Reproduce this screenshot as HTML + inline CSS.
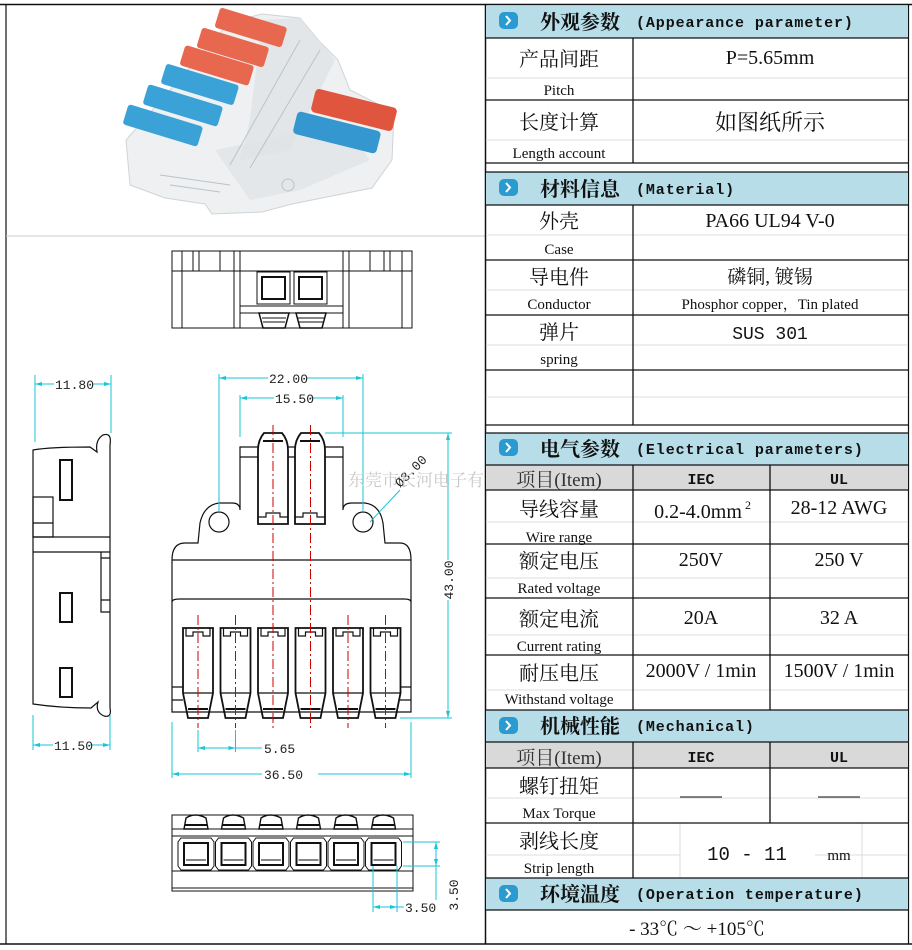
<!DOCTYPE html>
<html><head><meta charset="utf-8"><style>
html,body{margin:0;padding:0;background:#fff;}
svg{display:block;}
.cn{font-family:"Liberation Serif","Noto Serif CJK SC","Noto Sans CJK SC",serif;}
.en{font-family:"Liberation Serif","Noto Serif CJK SC",serif;}
.mono{font-family:"Liberation Mono","Noto Sans CJK SC",monospace;font-weight:bold;}
.dim{font-family:"Liberation Mono",monospace;font-size:13px;fill:#222;}
</style></head><body>
<svg width="912" height="950" viewBox="0 0 912 950" xmlns="http://www.w3.org/2000/svg">
<rect x="0" y="0" width="912" height="950" fill="#fff"/>
<line x1="0" y1="4.5" x2="912" y2="4.5" stroke="#111" stroke-width="1.5"/>
<line x1="6" y1="4" x2="6" y2="944" stroke="#111" stroke-width="1.2"/>
<line x1="0" y1="944" x2="912" y2="944" stroke="#111" stroke-width="1.5"/>
<line x1="6" y1="236" x2="485" y2="236" stroke="#ccc" stroke-width="1"/>
<line x1="485.5" y1="4" x2="485.5" y2="944" stroke="#111" stroke-width="1.5"/>
<line x1="908.5" y1="4" x2="908.5" y2="944" stroke="#111" stroke-width="1.2"/>

<!-- photo -->
<g>
<polygon points="126,140 130,185 165,198 205,204 212,214 262,212 292,204 372,188 392,160 394,112 350,90 338,60 320,42 300,18 262,14 230,22" fill="#eef0f1" stroke="#cfd4d7"/>
<polygon points="215,150 265,140 300,130 340,120 370,160 300,190 250,200" fill="#e3e7e9"/>
<polygon points="262,20 300,18 335,60 290,150 240,160 250,120" fill="#dfe3e6" opacity="0.8"/>
<g stroke="#bcc3c8" fill="none" stroke-width="1">
<line x1="230" y1="165" x2="300" y2="40"/><line x1="250" y1="168" x2="320" y2="50"/>
<path d="M160 175 L230 185 M170 185 L220 192"/>
<circle cx="288" cy="185" r="6"/>
</g>
<g>
<rect x="216" y="17" width="70" height="21" rx="3" fill="#e8674f" transform="rotate(17 251 27)"/>
<rect x="198" y="37" width="70" height="21" rx="3" fill="#e8674f" transform="rotate(17 233 47)"/>
<rect x="181" y="55" width="72" height="21" rx="3" fill="#e8674f" transform="rotate(17 217 65)"/>
<rect x="162" y="74" width="76" height="21" rx="3" fill="#3aa2d6" transform="rotate(17 200 84)"/>
<rect x="144" y="95" width="78" height="21" rx="3" fill="#3aa2d6" transform="rotate(17 183 105)"/>
<rect x="124" y="115" width="78" height="21" rx="3" fill="#3aa2d6" transform="rotate(17 163 125)"/>
<rect x="312" y="98" width="84" height="24" rx="4" fill="#e0553e" transform="rotate(14 354 110)"/>
<rect x="294" y="121" width="86" height="23" rx="4" fill="#3597cf" transform="rotate(14 337 132)"/>
</g>
</g>

<!-- top view -->
<g stroke="#111" fill="none" stroke-width="1">
<rect x="172" y="251" width="240" height="77"/>
<line x1="172" y1="271" x2="412" y2="271"/>
<line x1="182" y1="251" x2="182" y2="328"/><line x1="234" y1="251" x2="234" y2="328"/><line x1="240" y1="251" x2="240" y2="328"/>
<line x1="343" y1="251" x2="343" y2="328"/><line x1="349" y1="251" x2="349" y2="328"/><line x1="402" y1="251" x2="402" y2="328"/>
<line x1="193" y1="251" x2="193" y2="271"/><line x1="199" y1="251" x2="199" y2="271"/><line x1="220" y1="251" x2="220" y2="271"/>
<line x1="370" y1="251" x2="370" y2="271"/><line x1="384" y1="251" x2="384" y2="271"/><line x1="390" y1="251" x2="390" y2="271"/>
<rect x="257" y="272" width="33" height="32"/><rect x="262" y="277" width="23" height="22" stroke-width="2"/>
<rect x="294" y="272" width="33" height="32"/><rect x="299" y="277" width="23" height="22" stroke-width="2"/>
<line x1="240" y1="306" x2="343" y2="306"/><line x1="240" y1="313" x2="343" y2="313"/>
<path d="M259 313 L289 313 L285 328 L263 328 Z" stroke-width="1.5"/>
<path d="M296 313 L326 313 L322 328 L300 328 Z" stroke-width="1.5"/>
<path d="M262 318 L286 318 M263 322 L285 322 M298 318 L324 318 M299 322 L323 322"/>
</g>

<!-- side view -->
<g stroke="#111" fill="none" stroke-width="1.2">
<path d="M33 450 Q50 447 90 447 L97 452 Q95 440 103 435 Q112 432 110 445 L110 708 Q112 718 104 716 Q95 712 98 702 L91 708 Q60 708 33 704 Z"/>
<line x1="33" y1="537" x2="110" y2="537"/><line x1="33" y1="552" x2="110" y2="552"/>
<rect x="33" y="497" width="20" height="40"/><line x1="33" y1="523" x2="53" y2="523"/>
<path d="M101 552 L101 558 L110 558 M101 558 L101 600 L110 600 M101 600 L101 612 L110 612"/>
<rect x="60" y="460" width="12" height="40" stroke-width="2"/>
<rect x="60" y="593" width="12" height="29" stroke-width="2"/>
<rect x="60" y="668" width="12" height="29" stroke-width="2"/>
</g>

<!-- front view -->
<g stroke="#111" fill="none" stroke-width="1.2">
<path d="M172 560 Q172 543 185 543 L198 543 L200 523 Q204 505 219 503 L232 503 Q240 503 240 510 L240 447 L343 447 L343 510 Q343 503 352 503 L365 503 Q380 505 383 523 L385 543 L400 543 Q411 543 411 560 L411 712 L172 712 Z"/>
<line x1="172" y1="560" x2="411" y2="560"/>
<path d="M172 602 Q172 599 180 599 L404 599 Q411 599 411 602"/>
<circle cx="219" cy="522" r="10"/><circle cx="363" cy="522" r="10"/>
<line x1="240" y1="457" x2="343" y2="457"/>
<path d="M258 524 L258 450 Q258 440 264 433 L282 433 Q288 440 288 450 L288 524 Z" stroke-width="1.8" fill="#fff"/>
<path d="M295 524 L295 450 Q295 440 301 433 L319 433 Q325 440 325 450 L325 524 Z" stroke-width="1.8" fill="#fff"/>
<path d="M258 517 L266 517 L266 513 L280 513 L280 517 L288 517"/>
<path d="M295 517 L303 517 L303 513 L317 513 L317 517 L325 517"/>
<line x1="263" y1="441" x2="283" y2="441" stroke-width="2"/><line x1="300" y1="441" x2="320" y2="441" stroke-width="2"/>
<g id="bs">
<path d="M183 628 L213 628 L213 693 L208 718 L188 718 L183 693 Z" stroke-width="1.8"/>
<path d="M186 628 L186 636 L193 636 L193 632 L203 632 L203 636 L210 636 L210 628"/>
<line x1="183" y1="693" x2="213" y2="693"/>
<line x1="188" y1="709" x2="208" y2="709" stroke-width="2"/>
</g>
<use href="#bs" x="37.5"/><use href="#bs" x="75"/><use href="#bs" x="112.5"/><use href="#bs" x="150"/><use href="#bs" x="187.5"/>
<path d="M172 687 L183 687 M172 700 L183 700 M400 687 L411 687 M400 700 L411 700"/>
</g>
<g stroke="#c00" stroke-width="1" stroke-dasharray="10,3,2,3" fill="none">
<line x1="198" y1="615" x2="198" y2="728"/><line x1="235.5" y1="615" x2="235.5" y2="728"/>
<line x1="273" y1="425" x2="273" y2="728"/><line x1="310.5" y1="425" x2="310.5" y2="728"/>
<line x1="348" y1="615" x2="348" y2="728"/><line x1="385.5" y1="615" x2="385.5" y2="728"/>
</g>

<!-- bottom view -->
<g stroke="#111" fill="none" stroke-width="1">
<rect x="172" y="815" width="241" height="76"/>
<line x1="172" y1="829" x2="413" y2="829"/><line x1="172" y1="836" x2="413" y2="836"/>
<line x1="172" y1="871" x2="413" y2="871"/><line x1="172" y1="888" x2="413" y2="888"/>
<g id="bv">
<path d="M184 829 L186 818 Q195 812 206 818 L208 829 Z" stroke-width="1.4"/>
<line x1="185" y1="825" x2="207" y2="825" stroke-width="2"/>
<path d="M181 838 L211 838 L214 842 L214 866 L211 870 L181 870 L178 866 L178 842 Z"/>
<rect x="184" y="843" width="24" height="22" stroke-width="2"/>
<line x1="186" y1="860" x2="206" y2="860"/>
</g>
<use href="#bv" x="37.5"/><use href="#bv" x="75"/><use href="#bv" x="112.5"/><use href="#bv" x="150"/><use href="#bv" x="187.5"/>
</g>

<!-- dimensions -->
<g stroke="#16c6d6" stroke-width="1" fill="none">
<line x1="35" y1="375" x2="35" y2="442"/><line x1="111" y1="375" x2="111" y2="433"/>
<line x1="35" y1="384" x2="54" y2="384"/><line x1="92" y1="384" x2="111" y2="384"/>
<line x1="33" y1="715" x2="33" y2="750"/><line x1="110" y1="715" x2="110" y2="750"/>
<line x1="33" y1="745" x2="53" y2="745"/><line x1="90" y1="745" x2="110" y2="745"/>
<line x1="219" y1="374" x2="219" y2="512"/><line x1="363" y1="374" x2="363" y2="512"/>
<line x1="219" y1="378" x2="268" y2="378"/><line x1="306" y1="378" x2="363" y2="378"/>
<line x1="240" y1="395" x2="240" y2="437"/><line x1="343" y1="395" x2="343" y2="437"/>
<line x1="240" y1="398" x2="274" y2="398"/><line x1="310" y1="398" x2="343" y2="398"/>
<line x1="325" y1="433" x2="452" y2="433"/><line x1="400" y1="718" x2="452" y2="718"/>
<line x1="448" y1="433" x2="448" y2="560"/><line x1="448" y1="600" x2="448" y2="718"/>
<line x1="172" y1="722" x2="172" y2="778"/><line x1="411" y1="722" x2="411" y2="778"/>
<line x1="172" y1="774" x2="262" y2="774"/><line x1="318" y1="774" x2="411" y2="774"/>
<line x1="198" y1="730" x2="198" y2="752"/><line x1="235.5" y1="730" x2="235.5" y2="752"/>
<line x1="198" y1="748" x2="262" y2="748"/>
<line x1="370" y1="522" x2="400" y2="490"/>
<line x1="403" y1="842" x2="440" y2="842"/><line x1="403" y1="866" x2="440" y2="866"/>
<line x1="436" y1="842" x2="436" y2="900"/>
<line x1="373" y1="866" x2="373" y2="912"/><line x1="397" y1="866" x2="397" y2="912"/>
<line x1="373" y1="907" x2="404" y2="907"/>
</g>
<g fill="#16c6d6">
<path d="M35 384 l7 -2 v4z M111 384 l-7 -2 v4z M33 745 l7 -2 v4z M110 745 l-7 -2 v4z M219 378 l7 -2 v4z M363 378 l-7 -2 v4z M240 398 l7 -2 v4z M343 398 l-7 -2 v4z M448 433 l-2 7 h4z M448 718 l-2 -7 h4z M172 774 l7 -2 v4z M411 774 l-7 -2 v4z M198 748 l7 -2 v4z M235.5 748 l-7 -2 v4z M436 842 l-2 7 h4z M436 866 l-2 -7 h4z M373 907 l7 -2 v4z M397 907 l-7 -2 v4z"/>
</g>
<g class="dim">
<text x="55" y="389">11.80</text>
<text x="54" y="750">11.50</text>
<text x="269" y="383">22.00</text>
<text x="275" y="403">15.50</text>
<text x="264" y="753">5.65</text>
<text x="264" y="779">36.50</text>
<text x="405" y="912">3.50</text>
<text transform="translate(453,580) rotate(-90)" text-anchor="middle">43.00</text>
<text transform="translate(458,895) rotate(-90)" text-anchor="middle">3.50</text>
<text transform="translate(400,488) rotate(-45)">Ø3.00</text>
</g>
<text x="348" y="486" font-size="17" fill="#c8c8c8" class="cn">东莞市长河电子有</text>

<!-- right table -->
<g>
<rect x="486" y="6" width="422" height="32" fill="#b7dde8"/>
<rect x="486" y="172" width="422" height="33" fill="#b7dde8"/>
<rect x="486" y="433" width="422" height="32" fill="#b7dde8"/>
<rect x="486" y="465" width="422" height="25" fill="#d9d9d9"/>
<rect x="486" y="710" width="422" height="32" fill="#b7dde8"/>
<rect x="486" y="742" width="422" height="26" fill="#d9d9d9"/>
<rect x="486" y="878" width="422" height="32" fill="#b7dde8"/>
</g>
<g stroke="#dcdcdc" stroke-width="1">
<line x1="486" y1="78" x2="908" y2="78"/><line x1="486" y1="140" x2="908" y2="140"/>
<line x1="486" y1="235" x2="908" y2="235"/><line x1="486" y1="290" x2="908" y2="290"/><line x1="486" y1="345" x2="908" y2="345"/>
<line x1="486" y1="397" x2="908" y2="397"/>
<line x1="486" y1="522" x2="908" y2="522"/><line x1="486" y1="578" x2="908" y2="578"/><line x1="486" y1="635" x2="908" y2="635"/><line x1="486" y1="690" x2="908" y2="690"/>
<line x1="486" y1="798" x2="908" y2="798"/><line x1="486" y1="855" x2="680" y2="855"/><line x1="815" y1="855" x2="908" y2="855"/>
<line x1="680" y1="823" x2="680" y2="878"/><line x1="862" y1="823" x2="862" y2="878"/>
</g>
<g stroke="#111" stroke-width="1.3" fill="none">
<line x1="486" y1="38" x2="908" y2="38"/><line x1="486" y1="100" x2="908" y2="100"/><line x1="486" y1="163" x2="908" y2="163"/>
<line x1="486" y1="172" x2="908" y2="172"/><line x1="486" y1="205" x2="908" y2="205"/>
<line x1="486" y1="260" x2="908" y2="260"/><line x1="486" y1="315" x2="908" y2="315"/><line x1="486" y1="370" x2="908" y2="370"/>
<line x1="486" y1="425" x2="908" y2="425"/><line x1="486" y1="433" x2="908" y2="433"/><line x1="486" y1="465" x2="908" y2="465"/>
<line x1="486" y1="490" x2="908" y2="490"/><line x1="486" y1="544" x2="908" y2="544"/><line x1="486" y1="598" x2="908" y2="598"/>
<line x1="486" y1="655" x2="908" y2="655"/><line x1="486" y1="710" x2="908" y2="710"/><line x1="486" y1="742" x2="908" y2="742"/>
<line x1="486" y1="768" x2="908" y2="768"/><line x1="486" y1="823" x2="908" y2="823"/><line x1="486" y1="878" x2="908" y2="878"/><line x1="486" y1="910" x2="908" y2="910"/>
<line x1="633" y1="38" x2="633" y2="163"/><line x1="633" y1="205" x2="633" y2="425"/>
<line x1="633" y1="465" x2="633" y2="710"/><line x1="770" y1="465" x2="770" y2="710"/>
<line x1="633" y1="742" x2="633" y2="878"/><line x1="770" y1="742" x2="770" y2="823"/>
</g>
<g id="ic"><rect x="499" y="12" width="19" height="17" rx="5" fill="#2a9bd0"/><path d="M506 16 l4 4.5 -4 4.5" stroke="#fff" stroke-width="2" fill="none"/></g>
<use href="#ic" y="167"/><use href="#ic" y="427"/><use href="#ic" y="705"/><use href="#ic" y="873"/>
<g fill="#111">
<text x="540" y="29" class="cn" font-size="20" font-weight="bold">外观参数</text><text x="636" y="27" class="mono" font-size="15" letter-spacing="0.9">(Appearance parameter)</text>
<text x="540" y="196" class="cn" font-size="20" font-weight="bold">材料信息</text><text x="636" y="194" class="mono" font-size="15" letter-spacing="0.9">(Material)</text>
<text x="540" y="456" class="cn" font-size="20" font-weight="bold">电气参数</text><text x="636" y="454" class="mono" font-size="15" letter-spacing="0.9">(Electrical parameters)</text>
<text x="540" y="733" class="cn" font-size="20" font-weight="bold">机械性能</text><text x="636" y="731" class="mono" font-size="15" letter-spacing="0.9">(Mechanical)</text>
<text x="540" y="901" class="cn" font-size="20" font-weight="bold">环境温度</text><text x="636" y="899" class="mono" font-size="15" letter-spacing="0.9">(Operation temperature)</text>
</g>
<g class="cn" fill="#111" text-anchor="middle">
<text x="559" y="66" font-size="20">产品间距</text><text x="559" y="95" font-size="15" class="en">Pitch</text>
<text x="770" y="64" font-size="20" class="en">P=5.65mm</text>
<text x="559" y="129" font-size="20">长度计算</text><text x="559" y="158" font-size="15" class="en">Length account</text>
<text x="770" y="130" font-size="22">如图纸所示</text>
<text x="559" y="228" font-size="20">外壳</text><text x="559" y="254" font-size="15" class="en">Case</text>
<text x="770" y="227" font-size="20" class="en">PA66 UL94 V-0</text>
<text x="559" y="284" font-size="20">导电件</text><text x="559" y="309" font-size="15" class="en">Conductor</text>
<text x="770" y="283" font-size="19">磷铜, 镀锡</text>
<text x="770" y="309" font-size="15" class="en">Phosphor copper，Tin plated</text>
<text x="559" y="339" font-size="20">弹片</text><text x="559" y="364" font-size="15" class="en">spring</text>
<text x="770" y="339" font-size="18" font-family="Liberation Mono,monospace">SUS 301</text>
<text x="559" y="486" font-size="19" fill="#333">项目(Item)</text>
<text x="701" y="484" font-size="15" class="mono">IEC</text><text x="839" y="484" font-size="15" class="mono">UL</text>
<text x="559" y="516" font-size="20">导线容量</text><text x="559" y="542" font-size="15" class="en">Wire range</text>
<text x="698" y="518" font-size="20" class="en">0.2-4.0mm</text><text x="748" y="509" font-size="12" class="en">2</text>
<text x="839" y="514" font-size="20" class="en">28-12  AWG</text>
<text x="559" y="568" font-size="20">额定电压</text><text x="559" y="593" font-size="15" class="en">Rated voltage</text>
<text x="701" y="566" font-size="20" class="en">250V</text><text x="839" y="566" font-size="20" class="en">250 V</text>
<text x="559" y="626" font-size="20">额定电流</text><text x="559" y="651" font-size="15" class="en">Current rating</text>
<text x="701" y="624" font-size="20" class="en">20A</text><text x="839" y="624" font-size="20" class="en">32 A</text>
<text x="559" y="680" font-size="20">耐压电压</text><text x="559" y="704" font-size="15" class="en">Withstand voltage</text>
<text x="701" y="677" font-size="20" class="en">2000V / 1min</text><text x="839" y="677" font-size="20" class="en">1500V / 1min</text>
<text x="559" y="764" font-size="19" fill="#333">项目(Item)</text>
<text x="701" y="762" font-size="15" class="mono">IEC</text><text x="839" y="762" font-size="15" class="mono">UL</text>
<text x="559" y="793" font-size="20">螺钉扭矩</text><text x="559" y="818" font-size="15" class="en">Max Torque</text>
<text x="559" y="848" font-size="20">剥线长度</text><text x="559" y="873" font-size="15" class="en">Strip length</text>
<text x="747" y="860" font-size="19" font-family="Liberation Mono,monospace">10 - 11</text>
<text x="839" y="860" font-size="15" class="en">mm</text>
<text x="697" y="935" font-size="19" class="en">- 33℃  ～  +105℃</text>
</g>
<g stroke="#111" stroke-width="1"><line x1="680" y1="797" x2="722" y2="797"/><line x1="818" y1="797" x2="860" y2="797"/></g>
</svg>
</body></html>
